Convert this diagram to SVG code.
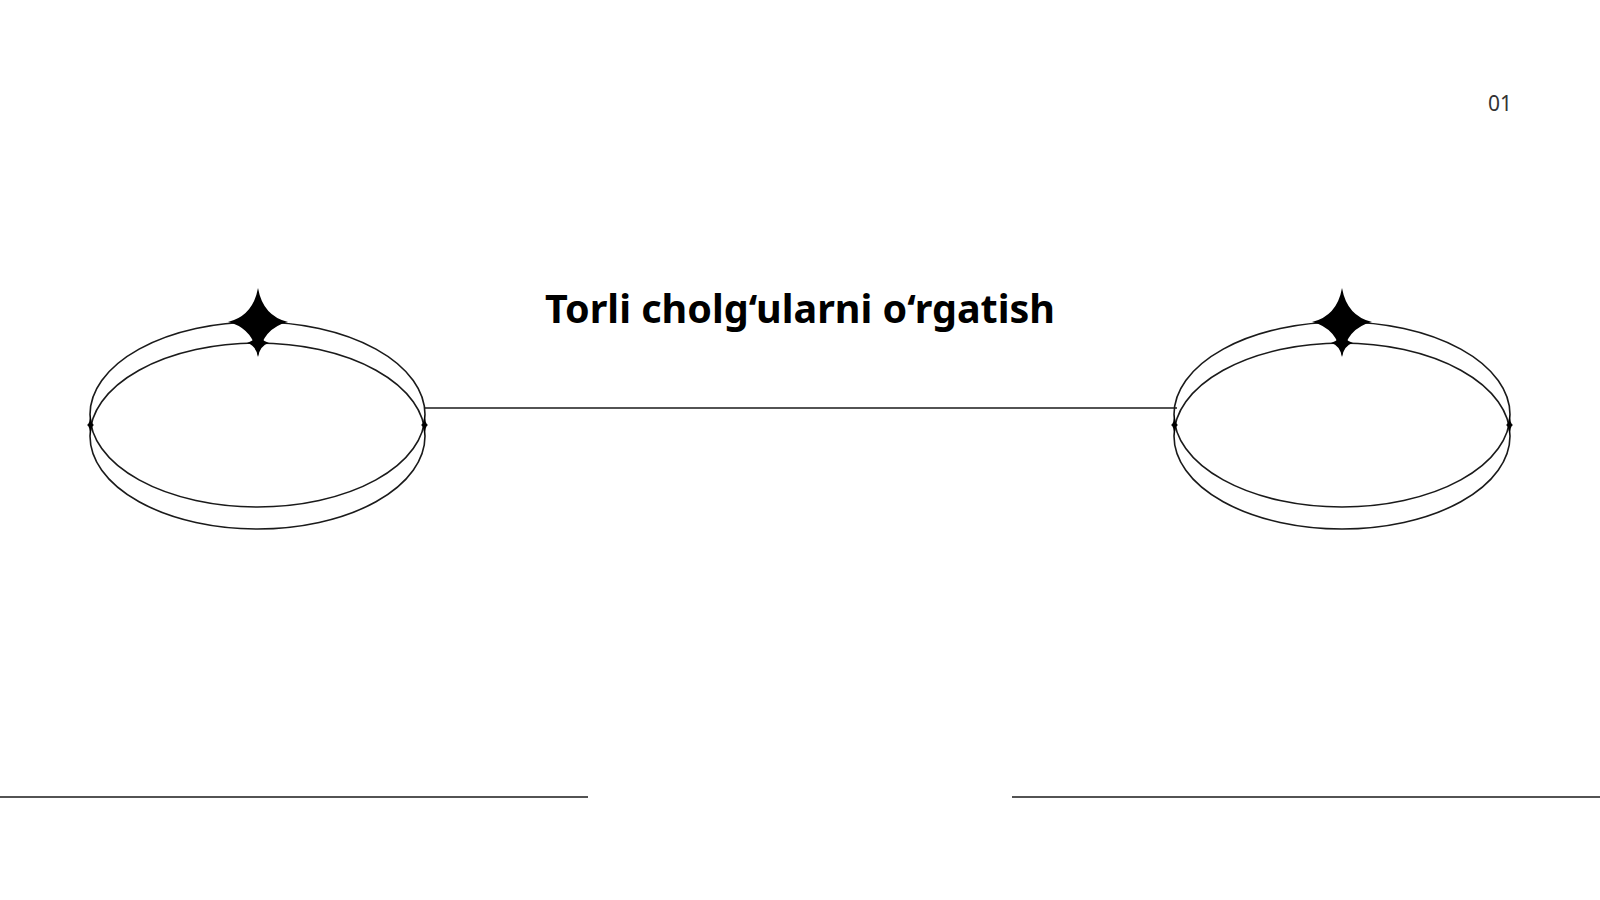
<svg xmlns="http://www.w3.org/2000/svg" width="1600" height="900" viewBox="0 0 1600 900">
<defs>
<style>
.ring{fill:none;stroke:#1a1a1a;stroke-width:1.6}
.line{fill:none;stroke:#1a1a1a;stroke-width:1.6}
.star{fill:#000}
.title{font-family:"Noto Sans","Open Sans","Liberation Sans",sans-serif;font-weight:700;font-size:39.5px;fill:#000}
.num{font-family:"Noto Sans","Open Sans","Liberation Sans",sans-serif;font-size:21px;fill:#333}
</style>
<path id="bigstar" class="star" d="M0,-34 Q5,-6 30,0 Q5,6 0,34 Q-5,6 -30,0 Q-5,-6 0,-34 Z"/>
<path id="smallstar" class="star" d="M0,-12 Q2,-2.5 11,0 Q2,2.5 0,14 Q-2,2.5 -11,0 Q-2,-2.5 0,-12 Z"/>
<path id="sidestar" class="star" d="M0,-11 Q0.8,-1 3.5,0 Q0.8,1 0,11 Q-0.8,1 -3.5,0 Q-0.8,-1 0,-11 Z"/>
</defs>
<rect width="1600" height="900" fill="#fff"/>
<g id="connectors">
<line class="line" x1="424" y1="408" x2="1177" y2="408"/>
<line class="line" x1="0" y1="797" x2="588" y2="797"/>
<line class="line" x1="1012" y1="797" x2="1600" y2="797"/>
</g>
<g id="node-left">
<ellipse class="ring" cx="257.5" cy="414.5" rx="167.5" ry="92.5"/>
<ellipse class="ring" cx="257.5" cy="436" rx="167.5" ry="93"/>
<use href="#bigstar" x="258" y="322"/>
<use href="#smallstar" x="258" y="343"/>
<use href="#sidestar" x="90.5" y="425"/>
<use href="#sidestar" x="424.5" y="425"/>
</g>
<g id="node-right">
<ellipse class="ring" cx="1342" cy="414.5" rx="168" ry="92.5"/>
<ellipse class="ring" cx="1342" cy="436" rx="168" ry="93"/>
<use href="#bigstar" x="1342" y="322"/>
<use href="#smallstar" x="1342" y="343"/>
<use href="#sidestar" x="1174.5" y="425"/>
<use href="#sidestar" x="1509.5" y="425"/>
</g>
<g id="title">
<text class="title" x="800" y="323" text-anchor="middle">Torli cholg‘ularni o‘rgatish</text>
</g>
<g id="page-number">
<text class="num" x="1512" y="111" text-anchor="end">01</text>
</g>
</svg>
